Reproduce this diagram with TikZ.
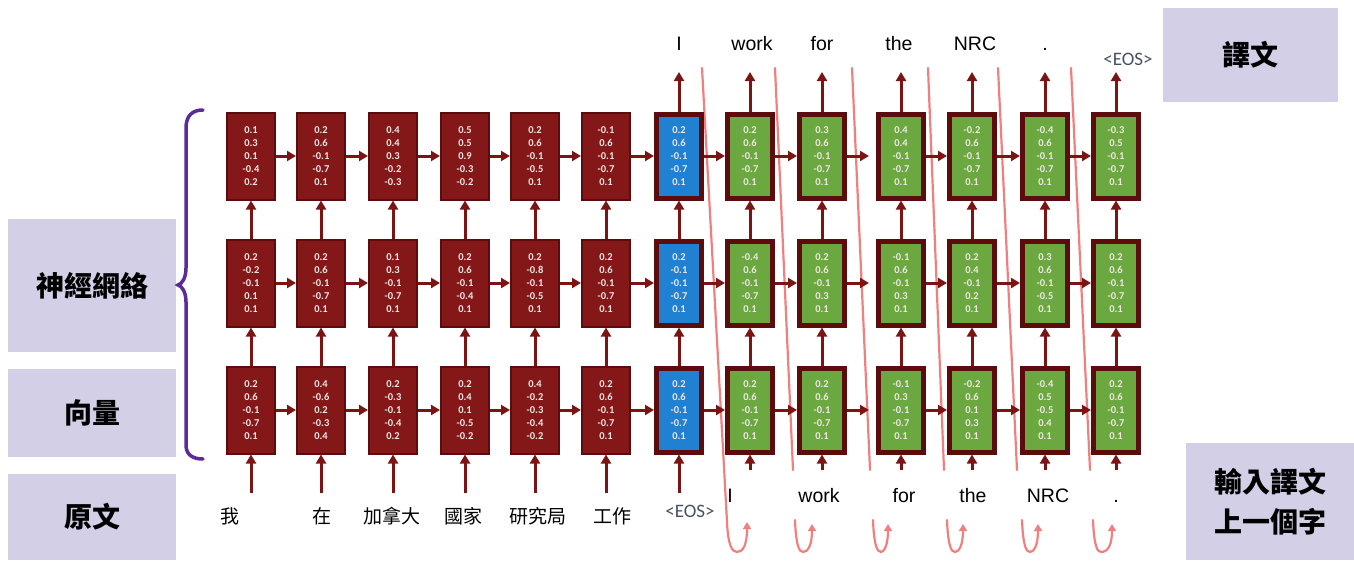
\documentclass[tikz,border=0pt]{standalone}
\usepackage{fontspec}
\setmainfont{Liberation Sans}
\newfontfamily\cjkfont{Noto Sans CJK TC}
\newfontfamily\numfnt{Carlito}
\usetikzlibrary{arrows.meta}
\definecolor{boxred}{RGB}{132,24,24}
\definecolor{boxedge}{RGB}{92,12,12}
\definecolor{boxblue}{RGB}{32,128,210}
\definecolor{boxgreen}{RGB}{108,168,64}
\definecolor{arrred}{RGB}{125,20,20}
\definecolor{lav}{RGB}{211,207,230}
\definecolor{pinkln}{RGB}{240,128,128}
\definecolor{bracec}{RGB}{92,44,150}
\definecolor{eosc}{RGB}{70,80,100}
\definecolor{numc}{RGB}{240,230,230}
\tikzset{
 cellbase/.style={rectangle, inner sep=0pt, align=center, text=numc, font=\numfnt\bfseries\fontsize{10.5}{13}\selectfont},
 redbox/.style={cellbase, fill=boxred, draw=boxedge, line width=2pt, minimum width=48pt, minimum height=87pt},
 bluebox/.style={cellbase, fill=boxblue, draw=boxedge, line width=5pt, minimum width=45pt, minimum height=84pt},
 greenbox/.style={cellbase, fill=boxgreen, draw=boxedge, line width=5pt, minimum width=45pt, minimum height=84pt},
 arr/.style={draw=arrred, line width=3pt, -{Triangle[length=9pt,width=10pt]}},
 pinkline/.style={draw=pinkln, line width=2.2pt, line cap=round},
 pinkarr/.style={pinkline, -{Triangle[length=7pt,width=8pt]}},
 lab/.style={fill=lav, font=\cjkfont\bfseries\fontsize{28}{40}\selectfont, align=center, text=black, inner sep=0pt},
 wordcn/.style={font=\cjkfont\fontsize{19}{22}\selectfont, inner sep=0pt},
 worden/.style={font=\fontsize{19.5}{22}\selectfont, inner sep=0pt, anchor=base},
 eos/.style={font=\numfnt\fontsize{19}{22}\selectfont, text=eosc, inner sep=0pt},
 bracestyle/.style={draw=bracec, line width=3.5pt, line cap=round}
}
\begin{document}
\begin{tikzpicture}[x=1pt,y=-1pt]
\useasboundingbox (0,0) rectangle (1354,560);
% label boxes
\node[lab, minimum width=168pt, minimum height=133pt] (lnet) at (92,285.5) {神經網絡};
\node[lab, minimum width=168pt, minimum height=88pt] (lvec) at (92,413) {向量};
\node[lab, minimum width=168pt, minimum height=86pt] (lsrc) at (92,517) {原文};
\node[lab, minimum width=175pt, minimum height=94pt] (ltgt) at (1250.5,55) {譯文};
\node[lab, minimum width=168pt, minimum height=117pt] (lprev) at (1270,501.5) {輸入譯文\\上一個字};
% brace
\draw[bracestyle] (203,110) .. controls (193,110) and (186,115) .. (186,128) -- (186,268)
  .. controls (186,278) and (182,284) .. (178,285) .. controls (182,286) and (186,292) .. (186,302)
  -- (186,445) .. controls (186,455) and (193,459) .. (203,459);
% pink feedback lines
\draw[pinkarr] (702,68) -- (727,522) .. controls (728,545) and (732,552) .. (737,552) .. controls (743,552) and (747,545) .. (747,522);
\foreach \tx/\bx/\lx/\px in {775/793/795/812, 852/870/873/888, 928/944/947/963, 998/1017/1022/1038, 1071/1090/1093/1112}{
  \draw[pinkline] (\tx,68) -- (\bx,470);
  \draw[pinkarr] (\lx,520) .. controls (\lx+1,545) and (\lx+4,552) .. (\lx+8,552) .. controls (\px-4,552) and (\px,545) .. (\px,524);
}
% row 1
\foreach \i/\x/\st/\pa/\pb/\pc/\pd/\pe in {
 1/251/redbox/0.1/0.3/0.1/-0.4/0.2, 2/321/redbox/0.2/0.6/-0.1/-0.7/0.1,
 3/393/redbox/0.4/0.4/0.3/-0.2/-0.3, 4/465/redbox/0.5/0.5/0.9/-0.3/-0.2,
 5/535/redbox/0.2/0.6/-0.1/-0.5/0.1, 6/606/redbox/-0.1/0.6/-0.1/-0.7/0.1,
 7/679/bluebox/0.2/0.6/-0.1/-0.7/0.1, 8/750/greenbox/0.2/0.6/-0.1/-0.7/0.1,
 9/822/greenbox/0.3/0.6/-0.1/-0.7/0.1, 10/901/greenbox/0.4/0.4/-0.1/-0.7/0.1,
 11/972/greenbox/-0.2/0.6/-0.1/-0.7/0.1, 12/1045/greenbox/-0.4/0.6/-0.1/-0.7/0.1,
 13/1116/greenbox/-0.3/0.5/-0.1/-0.7/0.1}
 {\node[\st] (n1-\i) at (\x,156) {\pa\\\pb\\\pc\\\pd\\\pe};}
% row 2
\foreach \i/\x/\st/\pa/\pb/\pc/\pd/\pe in {
 1/251/redbox/0.2/-0.2/-0.1/0.1/0.1, 2/321/redbox/0.2/0.6/-0.1/-0.7/0.1,
 3/393/redbox/0.1/0.3/-0.1/-0.7/0.1, 4/465/redbox/0.2/0.6/-0.1/-0.4/0.1,
 5/535/redbox/0.2/-0.8/-0.1/-0.5/0.1, 6/606/redbox/0.2/0.6/-0.1/-0.7/0.1,
 7/679/bluebox/0.2/-0.1/-0.1/-0.7/0.1, 8/750/greenbox/-0.4/0.6/-0.1/-0.7/0.1,
 9/822/greenbox/0.2/0.6/-0.1/0.3/0.1, 10/901/greenbox/-0.1/0.6/-0.1/0.3/0.1,
 11/972/greenbox/0.2/0.4/-0.1/0.2/0.1, 12/1045/greenbox/0.3/0.6/-0.1/-0.5/0.1,
 13/1116/greenbox/0.2/0.6/-0.1/-0.7/0.1}
 {\node[\st] (n2-\i) at (\x,283) {\pa\\\pb\\\pc\\\pd\\\pe};}
% row 3
\foreach \i/\x/\st/\pa/\pb/\pc/\pd/\pe in {
 1/251/redbox/0.2/0.6/-0.1/-0.7/0.1, 2/321/redbox/0.4/-0.6/0.2/-0.3/0.4,
 3/393/redbox/0.2/-0.3/-0.1/-0.4/0.2, 4/465/redbox/0.2/0.4/0.1/-0.5/-0.2,
 5/535/redbox/0.4/-0.2/-0.3/-0.4/-0.2, 6/606/redbox/0.2/0.6/-0.1/-0.7/0.1,
 7/679/bluebox/0.2/0.6/-0.1/-0.7/0.1, 8/750/greenbox/0.2/0.6/-0.1/-0.7/0.1,
 9/822/greenbox/0.2/0.6/-0.1/-0.7/0.1, 10/901/greenbox/-0.1/0.3/-0.1/-0.7/0.1,
 11/972/greenbox/-0.2/0.6/0.1/0.3/0.1, 12/1045/greenbox/-0.4/0.5/-0.5/0.4/0.1,
 13/1116/greenbox/0.2/0.6/-0.1/-0.7/0.1}
 {\node[\st] (n3-\i) at (\x,410) {\pa\\\pb\\\pc\\\pd\\\pe};}
% horizontal arrows
\foreach \r in {1,2,3}{
  \foreach \i in {1,...,8,10,11,12}{
    \pgfmathtruncatemacro\j{\i+1}
    \draw[arr] (n\r-\i) -- (n\r-\j);
  }
  \draw[arr, shorten >=7pt] (n\r-9) -- (n\r-10);
}
% vertical arrows
\foreach \i in {1,...,13}{
  \draw[arr] (n3-\i) -- (n2-\i);
  \draw[arr] (n2-\i) -- (n1-\i);
}
% inputs
\foreach \i/\x in {1/251,2/321,3/393,4/465,5/535,6/606,7/679}{
  \coordinate (in-\i) at (\x,493);
  \draw[arr] (in-\i) -- (n3-\i);
}
\foreach \i/\x in {8/750,9/822,10/901,11/972,12/1045,13/1116}{
  \coordinate (in-\i) at (\x,470);
  \draw[arr] (in-\i) -- (n3-\i);
}
% outputs
\foreach \i/\x in {7/679,8/750,9/822,10/901,11/972,12/1045,13/1116}{
  \coordinate (out-\i) at (\x,72);
  \draw[arr] (n1-\i) -- (out-\i);
}
% output words
\node[worden] (w1) at (679,50) {I};
\node[worden] (w2) at (752,50) {work};
\node[worden] (w3) at (822,50) {for};
\node[worden] (w4) at (899,50) {the};
\node[worden] (w5) at (975,50) {NRC};
\node[worden] (w6) at (1045,50) {.};
\node[eos] (w7) at (1128,59) {<EOS>};
% input words (target side)
\node[worden] (v1) at (730,502) {I};
\node[worden] (v2) at (819,502) {work};
\node[worden] (v3) at (904,502) {for};
\node[worden] (v4) at (973,502) {the};
\node[worden] (v5) at (1048,502) {NRC};
\node[worden] (v6) at (1116,502) {.};
\node[eos] (v0) at (690,511) {<EOS>};
% source words
\node[wordcn] (s1) at (230,516) {我};
\node[wordcn] (s2) at (322,516) {在};
\node[wordcn] (s3) at (392,516) {加拿大};
\node[wordcn] (s4) at (463,516) {國家};
\node[wordcn] (s5) at (538,516) {研究局};
\node[wordcn] (s6) at (612,516) {工作};
\end{tikzpicture}
\end{document}
